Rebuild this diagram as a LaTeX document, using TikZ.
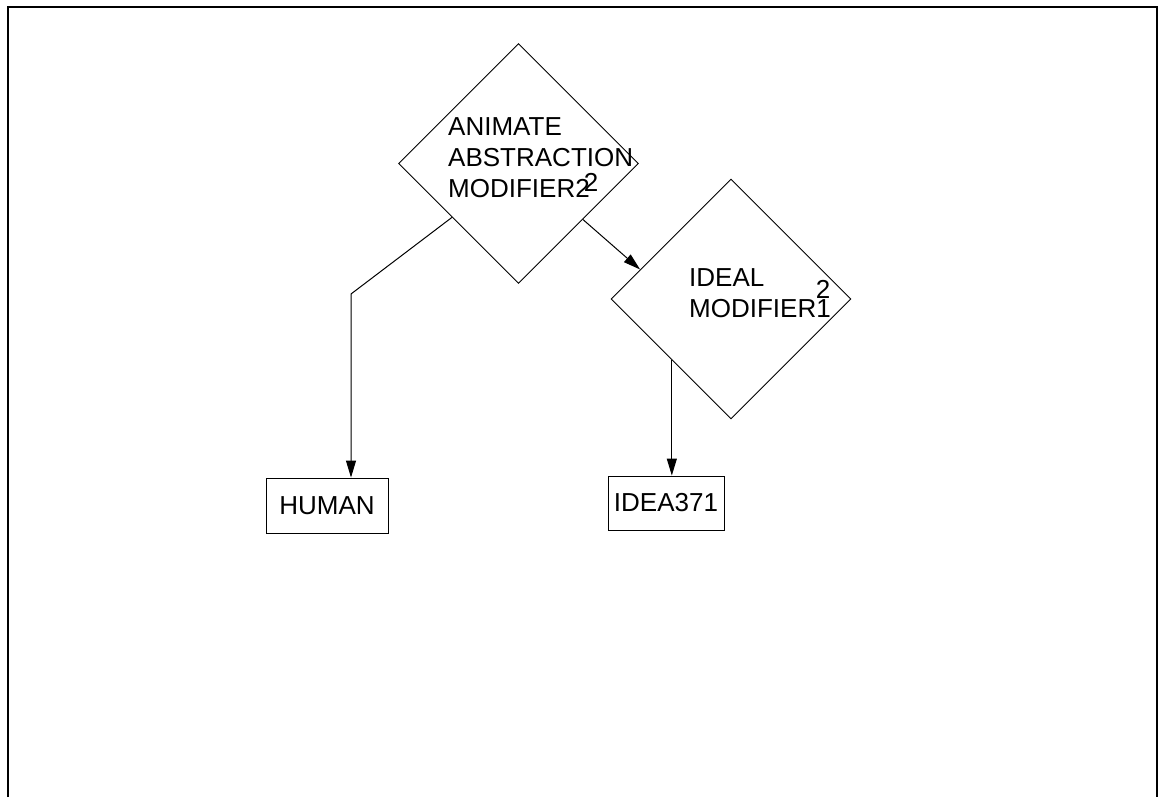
\documentclass[tikz,border=0pt]{standalone}
\usepackage{fontspec}
\setmainfont{Liberation Sans}
\usepackage{tikz}
\usetikzlibrary{shapes.geometric,arrows.meta}

\begin{document}
\begin{tikzpicture}[x=1pt, y=-1pt,
    choice/.style={draw, diamond, minimum width=240pt, minimum height=240pt, inner sep=0pt, line width=0.9pt},
    term/.style={draw, rectangle, inner sep=0pt, line width=0.9pt, font=\fontsize{26}{31}\selectfont},
    tag/.style={inner sep=0pt, align=left, font=\fontsize{26}{31}\selectfont},
    link/.style={line width=1pt, -{Triangle[length=17pt,width=10pt]}}]
    \useasboundingbox (0,0) rectangle (1166,797);

    % Outer frame
    \draw[line width=2pt] (8,797) -- (8,7) -- (1157,7) -- (1157,797);

    % Upper diamond
    \node[choice] (animate) at (518.5,163.5) {};
    \node[tag, anchor=north west] (animatetext) at (448,117) {ANIMATE\\ABSTRACTION\\MODIFIER2};
    \node[tag] (animatetwo) at (591,182) {2};

    % Lower diamond
    \node[choice] (ideal) at (731,299) {};
    \node[tag, anchor=north west] (idealtext) at (689,268) {IDEAL\\MODIFIER1};
    \node[tag] (idealtwo) at (823,289) {2};

    % Leaves
    \node[term, minimum width=122pt, minimum height=55pt] (human) at (327,505.5) {HUMAN};
    \node[term, minimum width=116pt, minimum height=54pt] (idea) at (666,503) {IDEA371};

    % Links
    \coordinate (bend) at (351,294);
    \draw[link] (animate.219) -- (bend) -- (bend |- human.north);
    \draw[link] (animate.-41) -- (ideal.162);
    \draw[link] (ideal.226) -- (ideal.226 |- idea.north);
\end{tikzpicture}
\end{document}
